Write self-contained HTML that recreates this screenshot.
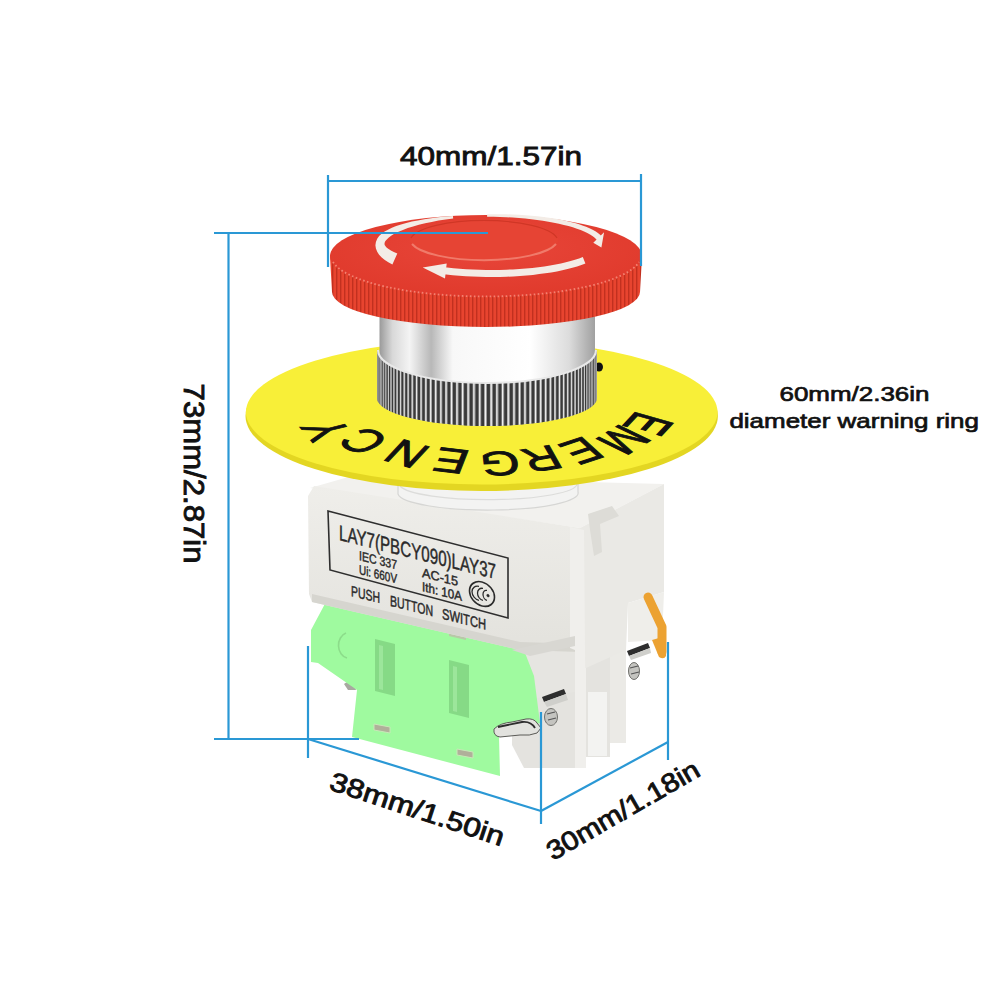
<!DOCTYPE html>
<html><head><meta charset="utf-8"><style>
html,body{margin:0;padding:0;background:#fff;}
svg{display:block;font-family:"Liberation Sans",sans-serif;}
</style></head><body>
<svg width="1000" height="1000" viewBox="0 0 1000 1000">
<defs>
  <linearGradient id="chrome" x1="0" x2="1" y1="0" y2="0">
    <stop offset="0" stop-color="#9a9a9a"/>
    <stop offset="0.06" stop-color="#d8d8d8"/>
    <stop offset="0.14" stop-color="#f4f4f4"/>
    <stop offset="0.24" stop-color="#b8b8b8"/>
    <stop offset="0.34" stop-color="#f8f8f8"/>
    <stop offset="0.7" stop-color="#ffffff"/>
    <stop offset="0.88" stop-color="#dcdcdc"/>
    <stop offset="1" stop-color="#a0a0a0"/>
  </linearGradient>
  <pattern id="knurl" width="4.8" height="60" patternUnits="userSpaceOnUse">
    <rect width="4.8" height="60" fill="#b4b4b4"/>
    <rect x="0" width="2.6" height="60" fill="#383838"/>
    <rect x="3.2" width="0.8" height="60" fill="#eeeeee"/>
  </pattern>
  <pattern id="rknurl" width="4" height="60" patternUnits="userSpaceOnUse">
    <rect width="4" height="60" fill="#e8442f"/>
    <rect x="0" width="1.4" height="60" fill="#c2301f"/>
  </pattern>
  <linearGradient id="frontG" x1="0" x2="0" y1="0" y2="1">
    <stop offset="0" stop-color="#efeeea"/>
    <stop offset="1" stop-color="#e3e2dd"/>
  </linearGradient>
  <radialGradient id="capTop" cx="0.5" cy="0.4" r="0.6">
    <stop offset="0" stop-color="#e8463a"/>
    <stop offset="1" stop-color="#e03a2c"/>
  </radialGradient>
</defs>
<rect width="1000" height="1000" fill="#fff"/>

<!-- ===== BOX ===== -->
<g id="box">
  <!-- lower housing -->
  <polygon points="512,646 575,634 575,768 524,768 512,745" fill="#e4e3df"/>
  <polygon points="518,650 575,634 575,692 524,700" fill="#e6e5e1"/>
  <rect x="575" y="630" width="11" height="138" fill="#f0efec"/>
  <rect x="586" y="650" width="24" height="107" fill="#e4e3df"/>
  <rect x="588" y="692" width="19" height="64" fill="#f3f3f1"/>
  <rect x="610" y="640" width="16" height="103" fill="#ebeae6"/>
</g>
<!-- ===== GREEN ===== -->
<path d="M344,684 Q348,680 354,684 L356,690 L348,690 Z" fill="#a8a8a0"/>
<polygon points="333,590 520,640 534,676 540,723 499,736 500,776 352,737 357,690 318,663 311,662 311,630 327,600" fill="#9ffa9f"/>
<path d="M346,633 A11,13 0 0 0 347,658" fill="none" stroke="#8cdc8a" stroke-width="1.6"/>
<polygon points="369,611 386,615 386,618 369,614" fill="#b8c8a8"/>
<polygon points="449,633 466,637 466,640 449,636" fill="#b8c8a8"/>
<g fill="#86da86">
  <polygon points="375,639 395,644 395,696 375,691"/>
  <polygon points="449,660 469,665 469,718 449,713"/>
</g>
<g fill="#9ce69b">
  <polygon points="379,645 383,646 383,690 379,689"/>
  <polygon points="453,666 457,667 457,712 453,711"/>
</g>
<g fill="#b0b09a" stroke="#c8e8b8" stroke-width="1">
  <polygon points="374,724 390,727 390,733 374,730"/>
  <polygon points="457,749 473,752 473,758 457,755"/>
</g>

<g>
  <!-- top face -->
  <polygon points="310,488 352,476 664,484 580,528" fill="#f2f1ee"/>
  <!-- right face -->
  <polygon points="580,528 664,484 664,592 628,603 626,650 586,668 580,668" fill="#eae9e5"/>
  <polygon points="628,603 664,592 662,640 628,642" fill="#efeeea"/>
  <!-- slot -->
  <polygon points="588,514 612,506 619,516 600,524 602,552 594,556 590,530" fill="#dddcd7"/>
  <!-- front face -->
  <polygon points="314,486 580,528 582,652 520,650 312,602 309,594 308,496" fill="url(#frontG)"/>
  <polygon points="312,594 520,642 582,644 582,652 520,650 312,602" fill="#d6d5cf"/>
  <polygon points="570,527 584,530 586,768 575,768 575,650 570,648" fill="#f0efec"/>
  <!-- label -->
  <polygon points="328,511 508,558 508,618 330,570" fill="none" stroke="#2e2e2e" stroke-width="1.6"/>
  <g fill="#2a2a2a" stroke="#2a2a2a" stroke-width="0.45" transform="skewY(14)">
    <text x="339" y="455.5" font-size="21.5" textLength="157" lengthAdjust="spacingAndGlyphs">LAY7(PBCY090)LAY37</text>
    <text x="359" y="470.5" font-size="13" textLength="38" lengthAdjust="spacingAndGlyphs">IEC 337</text>
    <text x="359" y="484.5" font-size="13" textLength="38" lengthAdjust="spacingAndGlyphs">Ui: 660V</text>
    <text x="422" y="471.8" font-size="13" textLength="36" lengthAdjust="spacingAndGlyphs">AC-15</text>
    <text x="422" y="485.8" font-size="13" textLength="40" lengthAdjust="spacingAndGlyphs">Ith: 10A</text>
    <text x="351" y="508.5" font-size="15" textLength="29" lengthAdjust="spacingAndGlyphs">PUSH</text>
    <text x="390" y="508.5" font-size="15" textLength="43" lengthAdjust="spacingAndGlyphs">BUTTON</text>
    <text x="442" y="508.5" font-size="15" textLength="44" lengthAdjust="spacingAndGlyphs">SWITCH</text>
    <ellipse cx="482" cy="473.8" rx="12.5" ry="12" fill="none" stroke="#2a2a2a" stroke-width="1.6"/>
    <g fill="none" stroke="#2a2a2a" stroke-width="1.3">
      <path d="M479,467 A7,7 0 1 0 479,481"/>
      <path d="M483,468 A5.5,6 0 1 0 483,480"/>
      <path d="M487,469 A4,5 0 1 0 487,479"/>
    </g>
    <circle cx="488" cy="474" r="1.3"/>
  </g>
  <!-- terminals -->
  <polygon points="512,650 575,636 575,646 530,656" fill="#d8d7d2"/>
  <path d="M542,697 L564,689 L566,694 L544,702 Z" fill="#2e2e2e"/>
  <path d="M544,702 L566,694 L568,700 L547,707 Z" fill="#cfcfcb"/>
  <ellipse cx="551" cy="717" rx="6.5" ry="8.5" fill="#c4c4c0" stroke="#70706c" stroke-width="1"/>
  <path d="M547,714 L555,712 M548,720 L556,718" stroke="#555" stroke-width="1.2"/>
  <path d="M494,729 Q500,723 512,722 L526,719 Q534,718 537,723 L541,728 L537,733 Q530,736 520,735 L500,737 Q493,736 494,729 Z" fill="#e2e2de" stroke="#5a5a56" stroke-width="1"/>
  <path d="M498,727 L522,722 Q531,721 535,728" stroke="#2e2e2e" stroke-width="1.8" fill="none"/>
  <path d="M627,651 L648,643 L650,648 L629,656 Z" fill="#2e2e2e"/>
  <path d="M629,656 L650,648 L651,653 L631,660 Z" fill="#cfcfcb"/>
  <ellipse cx="634" cy="671" rx="5.5" ry="8.5" fill="#c4c4c0" stroke="#70706c" stroke-width="1"/>
  <path d="M630,668 L638,666 M631,674 L639,672" stroke="#555" stroke-width="1.2"/>
  <!-- orange tab -->
  <path d="M648,597 L662,627 L662,652" fill="none" stroke="#eca232" stroke-width="9" stroke-linecap="round" stroke-linejoin="round"/>
  <path d="M652,640 L666,636 L666,656 Q664,660 659,657 Z" fill="#eca232"/>
</g>

<!-- threaded cylinder -->
<path d="M398,470 L398,494 A90,17 0 0 0 578,492 L578,470 Z" fill="#f3f3f2" stroke="#d6d6d4" stroke-width="1.2"/>
<path d="M400,486 A89,16 0 0 0 577,484" fill="none" stroke="#dcdcda" stroke-width="1.2"/>

<!-- ===== YELLOW DISK ===== -->
<ellipse cx="481.7" cy="416" rx="236.2" ry="75" fill="#e3d622"/>
<ellipse cx="481.7" cy="412" rx="235.8" ry="72.4" fill="#f8ef38"/>

<g fill="#111" stroke="#111" stroke-width="1.1" font-size="45" text-anchor="middle">
<text transform="matrix(-0.513 0.548 -1.227 -0.348 649 424)" x="0" y="16.1">E</text>
<text transform="matrix(-0.741 0.462 -1.035 -0.502 624 440)" x="0" y="16.1">M</text>
<text transform="matrix(-0.959 0.318 -0.713 -0.650 582 451)" x="0" y="16.1">E</text>
<text transform="matrix(-1.070 0.181 -0.406 -0.725 542 459)" x="0" y="16.1">R</text>
<text transform="matrix(-1.118 0.038 -0.084 -0.758 500 464)" x="0" y="16.1">G</text>
<text transform="matrix(-1.095 -0.130 0.291 -0.742 451 461)" x="0" y="16.1">E</text>
<text transform="matrix(-0.995 -0.282 0.632 -0.675 406.5 454)" x="0" y="16.1">N</text>
<text transform="matrix(-0.800 -0.431 0.966 -0.542 363 441.5)" x="0" y="16.1">C</text>
<text transform="matrix(-0.462 -0.561 1.257 -0.313 325 430.5)" x="0" y="16.1">Y</text>
</g>

<ellipse cx="599" cy="367" rx="4" ry="4.5" fill="#111"/>
<!-- ===== CHROME ===== -->
<rect x="379.5" y="300" width="215.5" height="90" fill="url(#chrome)"/>
<clipPath id="ringclip"><path d="M377,349 A110,34 0 0 0 597,349 L597,398 A110,28 0 0 1 377,398 Z"/></clipPath>
<g clip-path="url(#ringclip)">
<rect x="370" y="340" width="235" height="90" fill="#9c9c9c"/>
<g fill="#3a3a3a"><rect x="377.0" y="340" width="0.3" height="90"/><rect x="377.2" y="340" width="0.3" height="90"/><rect x="377.6" y="340" width="0.3" height="90"/><rect x="378.4" y="340" width="0.5" height="90"/><rect x="379.4" y="340" width="0.6" height="90"/><rect x="380.7" y="340" width="0.8" height="90"/><rect x="382.4" y="340" width="0.9" height="90"/><rect x="384.3" y="340" width="1.1" height="90"/><rect x="386.5" y="340" width="1.2" height="90"/><rect x="389.0" y="340" width="1.3" height="90"/><rect x="391.7" y="340" width="1.5" height="90"/><rect x="394.7" y="340" width="1.6" height="90"/><rect x="398.0" y="340" width="1.7" height="90"/><rect x="401.5" y="340" width="1.8" height="90"/><rect x="405.3" y="340" width="2.0" height="90"/><rect x="409.2" y="340" width="2.1" height="90"/><rect x="413.4" y="340" width="2.2" height="90"/><rect x="417.8" y="340" width="2.3" height="90"/><rect x="422.3" y="340" width="2.4" height="90"/><rect x="427.1" y="340" width="2.4" height="90"/><rect x="432.0" y="340" width="2.5" height="90"/><rect x="437.1" y="340" width="2.6" height="90"/><rect x="442.3" y="340" width="2.6" height="90"/><rect x="447.6" y="340" width="2.7" height="90"/><rect x="453.0" y="340" width="2.8" height="90"/><rect x="458.5" y="340" width="2.8" height="90"/><rect x="464.1" y="340" width="2.8" height="90"/><rect x="469.8" y="340" width="2.8" height="90"/><rect x="475.5" y="340" width="2.9" height="90"/><rect x="481.2" y="340" width="2.9" height="90"/><rect x="487.0" y="340" width="2.9" height="90"/><rect x="492.8" y="340" width="2.9" height="90"/><rect x="498.5" y="340" width="2.9" height="90"/><rect x="504.2" y="340" width="2.8" height="90"/><rect x="509.9" y="340" width="2.8" height="90"/><rect x="515.5" y="340" width="2.8" height="90"/><rect x="521.0" y="340" width="2.7" height="90"/><rect x="526.4" y="340" width="2.7" height="90"/><rect x="531.7" y="340" width="2.6" height="90"/><rect x="536.9" y="340" width="2.5" height="90"/><rect x="542.0" y="340" width="2.5" height="90"/><rect x="546.9" y="340" width="2.4" height="90"/><rect x="551.7" y="340" width="2.3" height="90"/><rect x="556.2" y="340" width="2.2" height="90"/><rect x="560.6" y="340" width="2.1" height="90"/><rect x="564.8" y="340" width="2.0" height="90"/><rect x="568.7" y="340" width="1.9" height="90"/><rect x="572.5" y="340" width="1.8" height="90"/><rect x="576.0" y="340" width="1.7" height="90"/><rect x="579.3" y="340" width="1.5" height="90"/><rect x="582.3" y="340" width="1.4" height="90"/><rect x="585.0" y="340" width="1.3" height="90"/><rect x="587.5" y="340" width="1.1" height="90"/><rect x="589.7" y="340" width="1.0" height="90"/><rect x="591.6" y="340" width="0.9" height="90"/><rect x="593.3" y="340" width="0.7" height="90"/><rect x="594.6" y="340" width="0.6" height="90"/><rect x="595.6" y="340" width="0.4" height="90"/><rect x="596.4" y="340" width="0.3" height="90"/><rect x="596.8" y="340" width="0.3" height="90"/></g>
<g fill="#f0f0f0"><rect x="377.1" y="340" width="0.2" height="90"/><rect x="377.4" y="340" width="0.2" height="90"/><rect x="378.0" y="340" width="0.2" height="90"/><rect x="379.0" y="340" width="0.2" height="90"/><rect x="380.2" y="340" width="0.3" height="90"/><rect x="381.7" y="340" width="0.3" height="90"/><rect x="383.5" y="340" width="0.4" height="90"/><rect x="385.6" y="340" width="0.5" height="90"/><rect x="388.0" y="340" width="0.5" height="90"/><rect x="390.7" y="340" width="0.6" height="90"/><rect x="393.6" y="340" width="0.6" height="90"/><rect x="396.7" y="340" width="0.7" height="90"/><rect x="400.2" y="340" width="0.7" height="90"/><rect x="403.8" y="340" width="0.8" height="90"/><rect x="407.7" y="340" width="0.8" height="90"/><rect x="411.8" y="340" width="0.8" height="90"/><rect x="416.1" y="340" width="0.9" height="90"/><rect x="420.6" y="340" width="0.9" height="90"/><rect x="425.3" y="340" width="1.0" height="90"/><rect x="430.1" y="340" width="1.0" height="90"/><rect x="435.1" y="340" width="1.0" height="90"/><rect x="440.3" y="340" width="1.0" height="90"/><rect x="445.5" y="340" width="1.1" height="90"/><rect x="450.9" y="340" width="1.1" height="90"/><rect x="456.4" y="340" width="1.1" height="90"/><rect x="462.0" y="340" width="1.1" height="90"/><rect x="467.6" y="340" width="1.1" height="90"/><rect x="473.3" y="340" width="1.1" height="90"/><rect x="479.1" y="340" width="1.1" height="90"/><rect x="484.8" y="340" width="1.2" height="90"/><rect x="490.6" y="340" width="1.2" height="90"/><rect x="496.3" y="340" width="1.1" height="90"/><rect x="502.0" y="340" width="1.1" height="90"/><rect x="507.7" y="340" width="1.1" height="90"/><rect x="513.4" y="340" width="1.1" height="90"/><rect x="518.9" y="340" width="1.1" height="90"/><rect x="524.4" y="340" width="1.1" height="90"/><rect x="529.7" y="340" width="1.1" height="90"/><rect x="535.0" y="340" width="1.0" height="90"/><rect x="540.1" y="340" width="1.0" height="90"/><rect x="545.1" y="340" width="1.0" height="90"/><rect x="549.9" y="340" width="0.9" height="90"/><rect x="554.5" y="340" width="0.9" height="90"/><rect x="559.0" y="340" width="0.9" height="90"/><rect x="563.2" y="340" width="0.8" height="90"/><rect x="567.3" y="340" width="0.8" height="90"/><rect x="571.1" y="340" width="0.7" height="90"/><rect x="574.7" y="340" width="0.7" height="90"/><rect x="578.0" y="340" width="0.6" height="90"/><rect x="581.1" y="340" width="0.6" height="90"/><rect x="584.0" y="340" width="0.5" height="90"/><rect x="586.6" y="340" width="0.5" height="90"/><rect x="588.9" y="340" width="0.4" height="90"/><rect x="590.9" y="340" width="0.4" height="90"/><rect x="592.7" y="340" width="0.3" height="90"/><rect x="594.1" y="340" width="0.3" height="90"/><rect x="595.3" y="340" width="0.2" height="90"/><rect x="596.1" y="340" width="0.2" height="90"/><rect x="596.7" y="340" width="0.2" height="90"/><rect x="597.0" y="340" width="0.2" height="90"/></g>
</g>
<path d="M378,350 A109,33 0 0 0 596,350" fill="none" stroke="#e8e8e8" stroke-width="2"/>

<!-- ===== RED CAP ===== -->
<path d="M330,257 A156,41 0 0 1 642,257 L640,292 A154,35 0 0 1 332,292 Z" fill="url(#rknurl)"/>
<ellipse cx="486" cy="256" rx="156" ry="41" fill="url(#capTop)"/>
<path d="M333,262 A155,41 0 0 0 639,262" fill="none" stroke="#f58a78" stroke-width="1.8" stroke-dasharray="1.6 2.4" opacity="0.9"/>
<ellipse cx="484" cy="240" rx="74" ry="21" fill="#e64434"/>
<path d="M412,244 A74,21 0 0 0 556,244" fill="none" stroke="#f07a6a" stroke-width="2"/>
<path d="M411,238 A74,21 0 0 1 557,238" fill="none" stroke="#d03626" stroke-width="1.2"/>

<g fill="#f3ece6">
<path d="M452.9,216.0 L445.4,216.6 L438.1,217.3 L431.1,218.2 L424.3,219.2 L417.9,220.4 L411.9,221.6 L406.3,223.0 L401.0,224.5 L396.2,226.1 L391.9,227.8 L388.0,229.7 L384.6,231.6 L381.6,233.8 L379.1,236.1 L377.2,238.8 L375.9,241.9 L375.4,245.2 L375.9,248.6 L377.2,251.8 L379.1,254.7 L381.7,257.4 L384.8,259.9 L388.3,262.2 L392.4,264.5 L397.3,253.5 L393.8,252.0 L390.9,250.5 L388.6,249.1 L386.8,247.7 L385.7,246.5 L385.0,245.5 L384.6,244.7 L384.5,243.8 L384.7,242.6 L385.4,241.1 L386.8,239.4 L388.8,237.5 L391.5,235.6 L394.7,233.6 L398.5,231.7 L402.9,229.9 L407.8,228.1 L413.1,226.4 L418.9,224.7 L425.1,223.2 L431.7,221.9 L438.5,220.6 L445.7,219.5 L453.2,218.5Z"/>
<path d="M487.1,214.3 L493.6,214.2 L500.1,214.2 L506.5,214.3 L512.9,214.5 L519.2,214.8 L525.4,215.2 L531.6,215.7 L537.5,216.3 L543.4,217.0 L549.0,217.8 L554.5,218.6 L559.8,219.6 L564.8,220.6 L569.6,221.7 L574.1,222.8 L578.4,224.1 L582.4,225.4 L586.1,226.8 L589.5,228.2 L592.6,229.7 L595.4,231.3 L597.9,233.0 L600.1,234.7 L601.9,236.6 L597.2,240.4 L596.0,239.0 L594.4,237.5 L592.4,236.0 L590.0,234.5 L587.3,233.0 L584.1,231.5 L580.7,230.1 L576.9,228.7 L572.8,227.3 L568.5,226.1 L563.8,224.9 L558.9,223.7 L553.8,222.7 L548.4,221.7 L542.8,220.8 L537.1,220.0 L531.2,219.2 L525.2,218.6 L519.0,218.1 L512.7,217.6 L506.4,217.2 L500.0,217.0 L493.6,216.8 L487.1,216.8ZM604.1,232.3 L601.4,247.5 L593.3,242.7Z"/>
<path d="M585.4,263.5 L581.4,265.1 L577.1,266.5 L572.4,267.8 L567.5,269.1 L562.3,270.3 L556.9,271.4 L551.2,272.4 L545.3,273.3 L539.2,274.1 L532.9,274.9 L526.5,275.5 L520.0,276.0 L513.3,276.4 L506.6,276.7 L499.8,276.9 L493.0,277.0 L486.1,277.0 L479.3,276.8 L472.5,276.6 L465.8,276.3 L459.2,275.8 L452.7,275.2 L446.3,274.6 L440.1,273.8 L441.1,266.9 L447.1,267.6 L453.4,268.3 L459.7,268.8 L466.2,269.3 L472.8,269.6 L479.5,269.8 L486.2,270.0 L492.9,270.0 L499.6,269.9 L506.3,269.7 L512.9,269.4 L519.5,269.0 L525.9,268.5 L532.2,267.9 L538.4,267.2 L544.3,266.4 L550.1,265.5 L555.6,264.5 L560.9,263.5 L565.9,262.3 L570.6,261.1 L575.0,259.8 L579.1,258.4 L582.8,257.0ZM445.0,278.4 L422.7,267.4 L446.7,263.5Z"/>
</g>

<!-- ===== LINES ===== -->
<g stroke="#2a98d5" stroke-width="2.2" fill="none">
  <line x1="328" y1="181" x2="641" y2="181"/>
  <line x1="328" y1="175" x2="328" y2="267"/>
  <line x1="641" y1="174" x2="641" y2="266"/>
  <line x1="214" y1="233" x2="488" y2="233"/>
  <line x1="228.5" y1="233" x2="228.5" y2="738"/>
  <line x1="214" y1="739" x2="359" y2="739"/>
  <line x1="308" y1="646" x2="308" y2="758"/>
  <line x1="308" y1="739" x2="541" y2="811"/>
  <line x1="541" y1="712" x2="541" y2="824"/>
  <line x1="541" y1="811" x2="668" y2="742"/>
  <line x1="668" y1="642" x2="668" y2="760"/>
</g>

<!-- ===== TEXT ===== -->
<g fill="#111" stroke="#111" stroke-width="0.9">
  <text x="400" y="164.6" font-size="26.5" textLength="182" lengthAdjust="spacingAndGlyphs">40mm/1.57in</text>
  <text x="779.5" y="400.5" font-size="21" stroke-width="0.7" textLength="150" lengthAdjust="spacingAndGlyphs">60mm/2.36in</text>
  <text x="729.4" y="427.5" font-size="21" stroke-width="0.7" textLength="249.6" lengthAdjust="spacingAndGlyphs">diameter warning ring</text>
  <text transform="translate(184 383.6) rotate(90)" x="0" y="0" font-size="30" textLength="180" lengthAdjust="spacingAndGlyphs">73mm/2.87in</text>
  <text transform="translate(328 789) rotate(18.3)" x="0" y="0" font-size="26.5" textLength="182" lengthAdjust="spacingAndGlyphs">38mm/1.50in</text>
  <text transform="translate(553 861) rotate(-30)" x="0" y="0" font-size="26.5" textLength="172" lengthAdjust="spacingAndGlyphs">30mm/1.18in</text>
</g>
</svg>
</body></html>
